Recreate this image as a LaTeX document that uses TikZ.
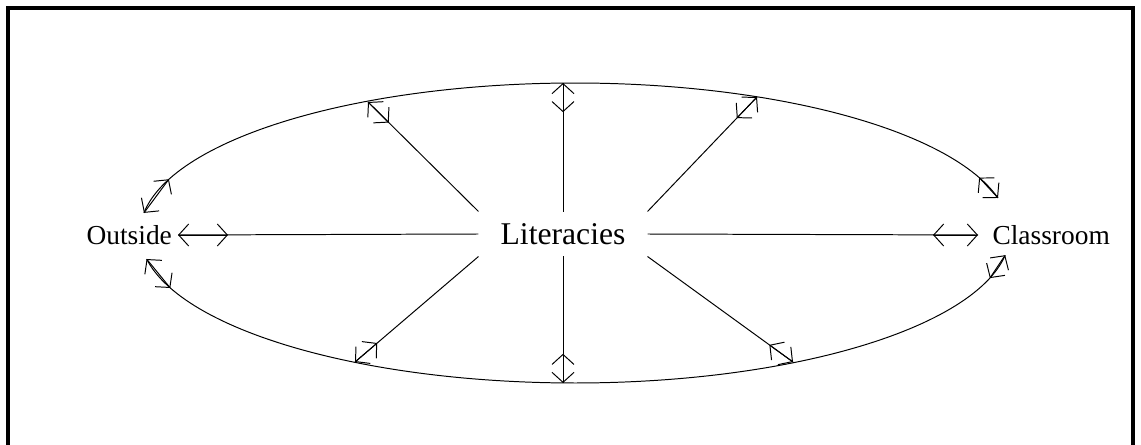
\documentclass[tikz,border=0pt]{standalone}
\usepackage{fontspec}
\setmainfont{Liberation Serif}
\usetikzlibrary{positioning,calc,arrows.meta}

\begin{document}
\begin{tikzpicture}[x=0.025cm,y=-0.025cm,line width=0.7pt,
    >={Straight Barb[length=2.5mm,width=5.5mm]},
    lbl/.style={font=\fontsize{19.5}{22}\selectfont,inner sep=4pt},
    dbl/.style={<->},
    frm/.style={line width=2.6pt}]
  \useasboundingbox (0,0) rectangle (1141,445);
  \draw[frm] (8,445) -- (8,8) -- (1133,8) -- (1133,445);
  % labels
  \node[lbl,font=\fontsize{22.5}{25}\selectfont,minimum width=4.2cm,minimum height=1.1cm] (lit) at (563,234) {Literacies};
  \node[lbl,anchor=east] (out) at (178,235) {Outside};
  \node[lbl,anchor=west,inner xsep=10pt] (cls) at (978,235) {Classroom};
  % points on the ellipse
  \coordinate (tl) at (368,102);
  \coordinate (tt) at (563,83);
  \coordinate (tr) at (757,97);
  \coordinate (bl) at (355,362);
  \coordinate (bb) at (563,383);
  \coordinate (br) at (793,362);
  % ends of the two arcs
  \coordinate (al1) at ({575+435*cos(187.7)},{233+150*sin(187.7)});
  \coordinate (al2) at ({575+435*cos(201)},{233+150*sin(201)});
  \coordinate (bl1) at ({575+435*cos(170)},{233+150*sin(170)});
  \coordinate (bl2) at ({575+435*cos(158.5)},{233+150*sin(158.5)});
  \coordinate (ar1) at ({575+435*cos(346.5)},{233+150*sin(346.5)});
  \coordinate (ar2) at ({575+435*cos(338.3)},{233+150*sin(338.3)});
  \coordinate (br1) at ({575+435*cos(8.5)},{233+150*sin(8.5)});
  \coordinate (br2) at ({575+435*cos(17.5)},{233+150*sin(17.5)});
  % ellipse, broken at the side labels
  \draw plot[domain=187.7:346.5,samples=120] ({575+435*cos(\x)},{233+150*sin(\x)});
  \draw plot[domain=8.5:170,samples=120] ({575+435*cos(\x)},{233+150*sin(\x)});
  \draw[dbl] (al2) -- (al1);
  \draw[dbl] (bl2) -- (bl1);
  \draw[dbl] (ar2) -- (ar1);
  \draw[dbl] (br2) -- (br1);
  % spokes
  \draw (lit.north west) -- (tl);
  \draw (lit.north) -- (tt);
  \draw (lit.north east) -- (tr);
  \draw (lit.south west) -- (bl);
  \draw (lit.south) -- (bb);
  \draw (lit.south east) -- (br);
  \draw (lit.west) -- (out.east);
  \draw (lit.east) -- (cls.west);
  \draw[dbl] ($(tl)!7.3mm!(lit.north west)$) -- (tl);
  \draw[dbl] ($(tt)!7.3mm!(lit.north)$) -- (tt);
  \draw[dbl] ($(tr)!7.3mm!(lit.north east)$) -- (tr);
  \draw[dbl] ($(bl)!7.3mm!(lit.south west)$) -- (bl);
  \draw[dbl] ($(bb)!7.3mm!(lit.south)$) -- (bb);
  \draw[dbl] ($(br)!7.3mm!(lit.south east)$) -- (br);
  \draw[dbl] ($(out.east)+(50,0)$) -- (out.east);
  \draw[dbl] ($(cls.west)-(45,0)$) -- (cls.west);
\end{tikzpicture}
\end{document}
